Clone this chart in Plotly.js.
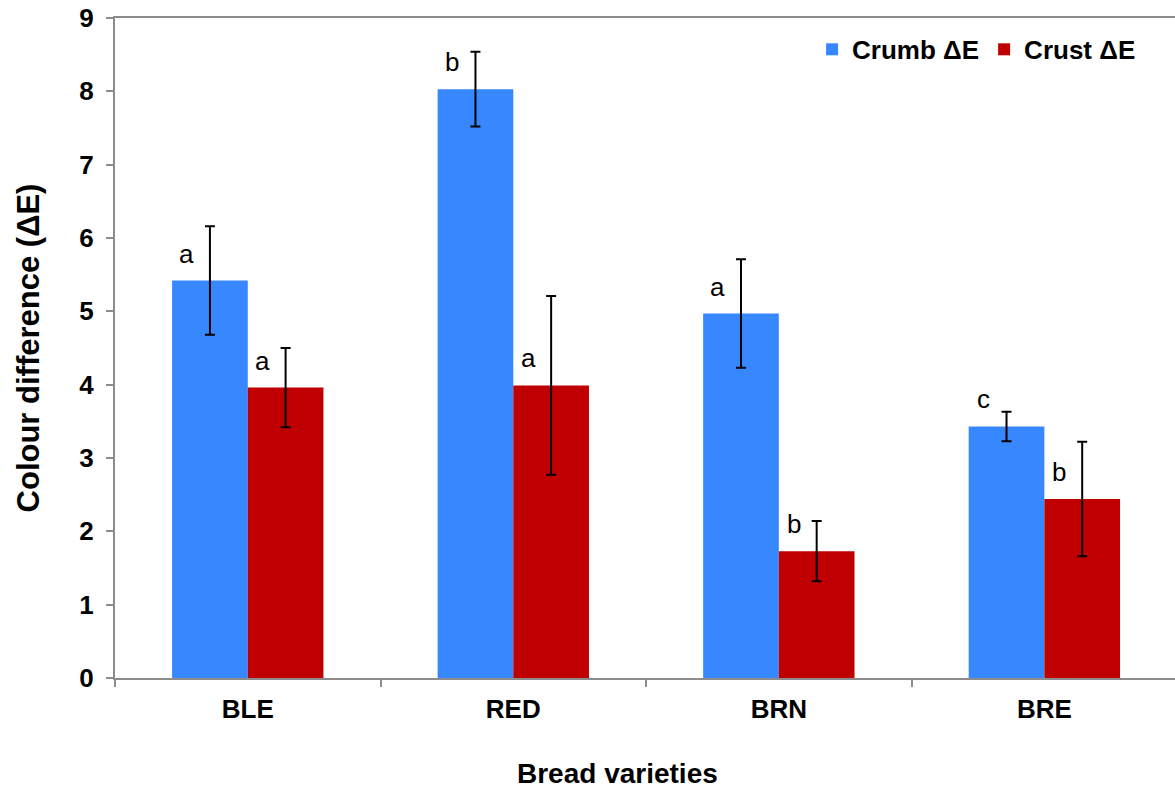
<!DOCTYPE html>
<html>
<head>
<meta charset="utf-8">
<script src="https://cdn.plot.ly/plotly-3.0.1.min.js"></script>
<style>
  html, body { margin: 0; padding: 0; background: #fff; overflow: hidden; }
  #chart { width: 1175px; height: 791px; }
</style>
</head>
<body>
<div id="chart"></div>
<script>
// Bread varieties and their colour differences (mean ± SD)
const varieties = ['BLE', 'RED', 'BRN', 'BRE'];
const crumbDE = [5.42, 8.03, 4.97, 3.43];
const crumbSD = [0.74, 0.51, 0.74, 0.20];
const crustDE = [3.96, 3.99, 1.73, 2.44];
const crustSD = [0.54, 1.22, 0.41, 0.78];
// Significance letters
const crumbLetters = ['a', 'b', 'a', 'c'];
const crustLetters = ['a', 'a', 'b', 'b'];

const FONT = 'Liberation Sans, Arial, sans-serif';
const BAR_GAP = 0.43;
const HALF = (1 - BAR_GAP) / 4; // offset of each bar centre within its group

const errStyle = { type: 'data', visible: true, color: '#000', thickness: 2, width: 5 };

const traces = [
  {
    type: 'bar', name: 'Crumb ΔE', x: varieties, y: crumbDE,
    marker: { color: '#3787FF', line: { width: 0 } },
    error_y: Object.assign({ array: crumbSD }, errStyle)
  },
  {
    type: 'bar', name: 'Crust ΔE', x: varieties, y: crustDE,
    marker: { color: '#C00000', line: { width: 0 } },
    error_y: Object.assign({ array: crustSD }, errStyle)
  }
];

function letterNotes(values, letters, offset) {
  return values.map((v, i) => ({
    x: i + offset, y: v, xref: 'x', yref: 'y',
    text: letters[i], showarrow: false,
    xanchor: 'center', yanchor: 'middle',
    xshift: -23, yshift: 27,
    font: { family: FONT, size: 26, color: '#000' }
  }));
}

const annotations = [
  ...letterNotes(crumbDE, crumbLetters, -HALF),
  ...letterNotes(crustDE, crustLetters, HALF),
  {
    text: '<b>Bread varieties</b>', xref: 'paper', yref: 'paper',
    x: 0.4736, y: -0.1445, xanchor: 'center', yanchor: 'middle', showarrow: false,
    font: { family: FONT, size: 28, color: '#000' }
  }
];

const layout = {
  width: 1175, height: 791,
  margin: { l: 115, r: 0, t: 18, b: 113 },
  paper_bgcolor: '#fff', plot_bgcolor: '#fff',
  barmode: 'group', bargap: BAR_GAP, bargroupgap: 0,
  showlegend: true,
  legend: {
    orientation: 'h', x: 0.968, xanchor: 'right', y: 0.988, yanchor: 'top',
    bgcolor: 'rgba(0,0,0,0)',
    font: { family: FONT, size: 26, color: '#000', weight: 'bold' }
  },
  xaxis: {
    type: 'category', range: [-0.5, 3.492],
    showline: true, linecolor: '#8c8c8c', linewidth: 2, mirror: true,
    ticks: 'outside', tickson: 'boundaries', ticklen: 7, tickwidth: 2, tickcolor: '#8c8c8c',
    ticklabelstandoff: 7,
    showgrid: false, zeroline: false,
    tickfont: { family: FONT, size: 26, color: '#000', weight: 'bold' }
  },
  yaxis: {
    range: [0, 9], dtick: 1, tick0: 0,
    showline: true, linecolor: '#8c8c8c', linewidth: 2,
    ticks: 'outside', ticklen: 7, tickwidth: 2, tickcolor: '#8c8c8c',
    ticklabelstandoff: 7,
    showgrid: false, zeroline: false,
    tickfont: { family: FONT, size: 26, color: '#000', weight: 'bold' },
    title: { text: '<b>Colour difference (ΔE)</b>', standoff: 30,
             font: { family: FONT, size: 31, color: '#000' } }
  },
  annotations: annotations
};

Plotly.newPlot('chart', traces, layout, { displayModeBar: false, staticPlot: true });
</script>
</body>
</html>
